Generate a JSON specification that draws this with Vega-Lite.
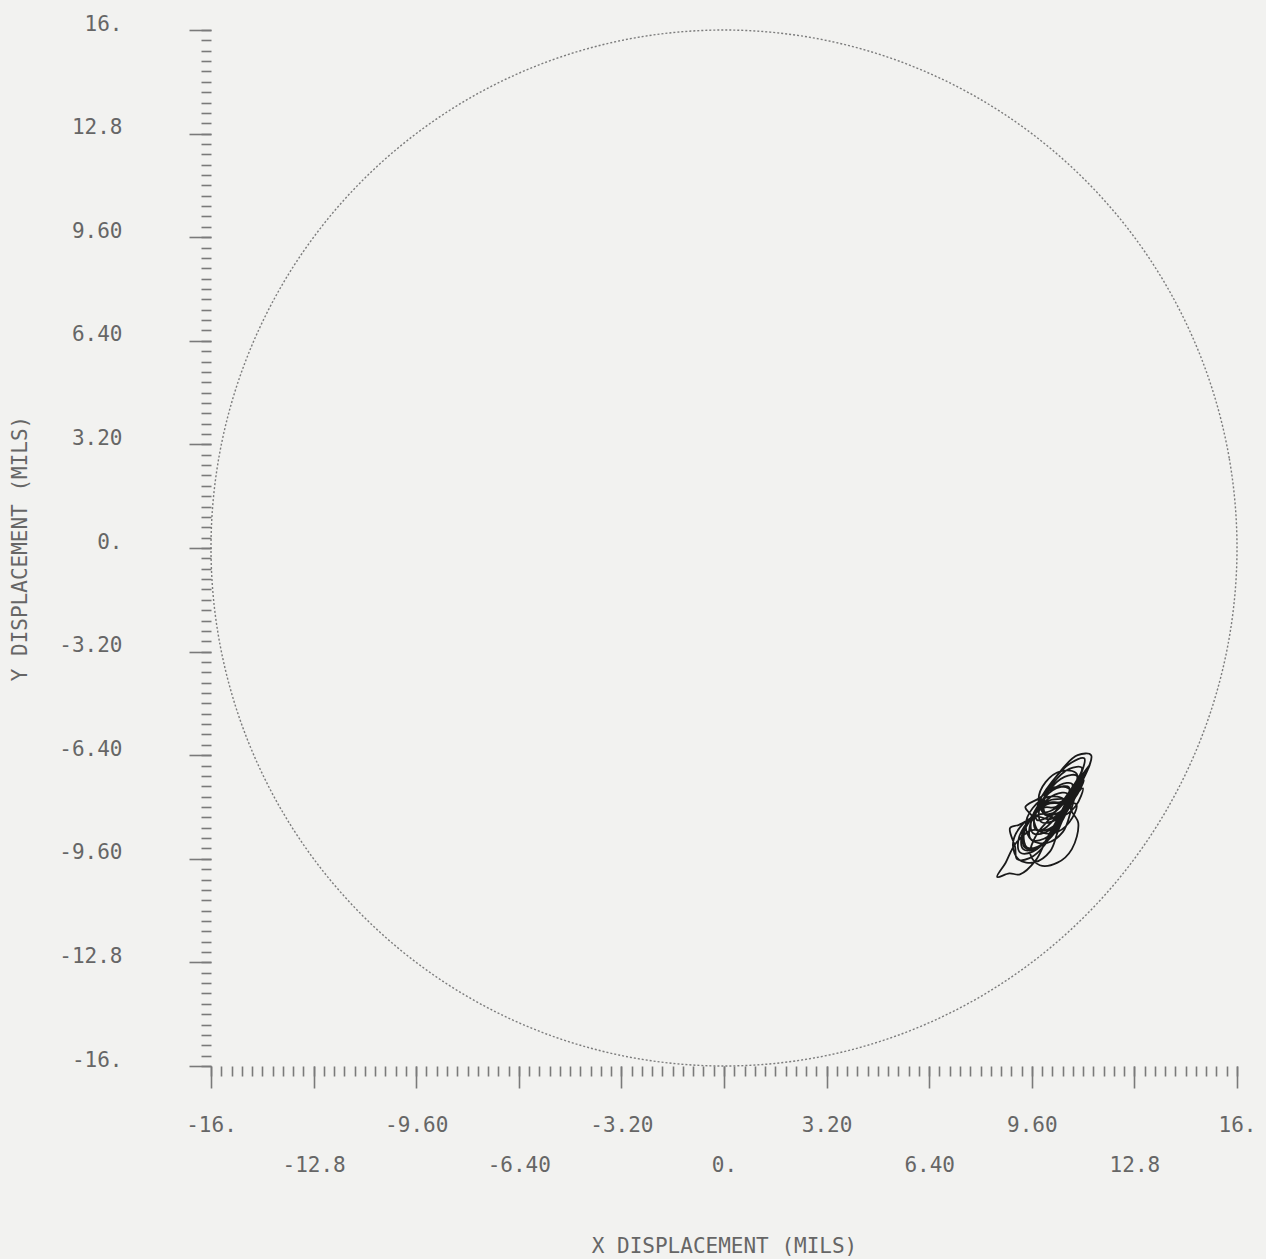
{
  "$schema": "https://vega.github.io/schema/vega-lite/v6.json",
  "width": 1026,
  "height": 1036,
  "autosize": {"type": "none"},
  "padding": {"left": 211, "top": 30, "right": 29, "bottom": 193},
  "background": "#f2f2f0",
  "config": {
    "view": {"stroke": null},
    "axis": {
      "labelFont": "DejaVu Sans Mono",
      "titleFont": "DejaVu Sans Mono",
      "labelFontSize": 21,
      "titleFontSize": 21,
      "titleFontWeight": "normal",
      "labelColor": "#666666",
      "titleColor": "#666666",
      "tickColor": "#7a7a7a",
      "tickWidth": 1.6,
      "domain": false,
      "grid": false
    }
  },
  "datasets": {
    "circle": [
      {"i": 0, "x": 16, "y": 0}, {"i": 1, "x": 15.757, "y": 2.778}, {"i": 2, "x": 15.035, "y": 5.472},
      {"i": 3, "x": 13.856, "y": 8}, {"i": 4, "x": 12.257, "y": 10.285}, {"i": 5, "x": 10.285, "y": 12.257},
      {"i": 6, "x": 8, "y": 13.856}, {"i": 7, "x": 5.472, "y": 15.035}, {"i": 8, "x": 2.778, "y": 15.757},
      {"i": 9, "x": 0, "y": 16}, {"i": 10, "x": -2.778, "y": 15.757}, {"i": 11, "x": -5.472, "y": 15.035},
      {"i": 12, "x": -8, "y": 13.856}, {"i": 13, "x": -10.285, "y": 12.257}, {"i": 14, "x": -12.257, "y": 10.285},
      {"i": 15, "x": -13.856, "y": 8}, {"i": 16, "x": -15.035, "y": 5.472}, {"i": 17, "x": -15.757, "y": 2.778},
      {"i": 18, "x": -16, "y": 0}, {"i": 19, "x": -15.757, "y": -2.778}, {"i": 20, "x": -15.035, "y": -5.472},
      {"i": 21, "x": -13.856, "y": -8}, {"i": 22, "x": -12.257, "y": -10.285}, {"i": 23, "x": -10.285, "y": -12.257},
      {"i": 24, "x": -8, "y": -13.856}, {"i": 25, "x": -5.472, "y": -15.035}, {"i": 26, "x": -2.778, "y": -15.757},
      {"i": 27, "x": 0, "y": -16}, {"i": 28, "x": 2.778, "y": -15.757}, {"i": 29, "x": 5.472, "y": -15.035},
      {"i": 30, "x": 8, "y": -13.856}, {"i": 31, "x": 10.285, "y": -12.257}, {"i": 32, "x": 12.257, "y": -10.285},
      {"i": 33, "x": 13.856, "y": -8}, {"i": 34, "x": 15.035, "y": -5.472}, {"i": 35, "x": 15.757, "y": -2.778}
    ],
    "orbit": [
      {"t": 1, "x": 10.46, "y": -7.89}, {"t": 2, "x": 10.07, "y": -7.92}, {"t": 3, "x": 9.58, "y": -8.35},
      {"t": 4, "x": 9.28, "y": -8.93}, {"t": 5, "x": 9.34, "y": -9.31}, {"t": 6, "x": 9.73, "y": -9.28},
      {"t": 7, "x": 10.22, "y": -8.85}, {"t": 8, "x": 10.52, "y": -8.27},
      {"t": 9, "x": 10.76, "y": -7.39}, {"t": 10, "x": 10.37, "y": -7.42}, {"t": 11, "x": 9.88, "y": -7.85},
      {"t": 12, "x": 9.58, "y": -8.43}, {"t": 13, "x": 9.64, "y": -8.81}, {"t": 14, "x": 10.03, "y": -8.78},
      {"t": 15, "x": 10.52, "y": -8.35}, {"t": 16, "x": 10.82, "y": -7.77},
      {"t": 17, "x": 10.58, "y": -7.75}, {"t": 18, "x": 10.15, "y": -7.8}, {"t": 19, "x": 9.65, "y": -8.22},
      {"t": 20, "x": 9.35, "y": -8.85}, {"t": 21, "x": 9.45, "y": -9.25}, {"t": 22, "x": 9.85, "y": -9.2},
      {"t": 23, "x": 10.35, "y": -8.75}, {"t": 24, "x": 10.62, "y": -8.15},
      {"t": 25, "x": 11.24, "y": -6.5}, {"t": 26, "x": 10.83, "y": -6.63}, {"t": 27, "x": 10.22, "y": -7.23},
      {"t": 28, "x": 9.78, "y": -7.97}, {"t": 29, "x": 9.76, "y": -8.4}, {"t": 30, "x": 10.17, "y": -8.27},
      {"t": 31, "x": 10.78, "y": -7.67}, {"t": 32, "x": 11.22, "y": -6.93},
      {"t": 33, "x": 10.8, "y": -8.0}, {"t": 34, "x": 11.05, "y": -8.5}, {"t": 35, "x": 10.85, "y": -9.3},
      {"t": 36, "x": 10.4, "y": -9.72}, {"t": 37, "x": 9.85, "y": -9.8}, {"t": 38, "x": 9.55, "y": -9.45},
      {"t": 39, "x": 9.75, "y": -8.85}, {"t": 40, "x": 10.25, "y": -8.25},
      {"t": 41, "x": 11.16, "y": -6.79}, {"t": 42, "x": 10.77, "y": -6.82}, {"t": 43, "x": 10.28, "y": -7.25},
      {"t": 44, "x": 9.98, "y": -7.83}, {"t": 45, "x": 10.04, "y": -8.21}, {"t": 46, "x": 10.43, "y": -8.18},
      {"t": 47, "x": 10.92, "y": -7.75}, {"t": 48, "x": 11.22, "y": -7.17},
      {"t": 49, "x": 10.26, "y": -8.19}, {"t": 50, "x": 9.87, "y": -8.22}, {"t": 51, "x": 9.2, "y": -8.55},
      {"t": 52, "x": 8.92, "y": -8.65}, {"t": 53, "x": 9.08, "y": -9.23}, {"t": 54, "x": 9.14, "y": -9.61},
      {"t": 55, "x": 9.53, "y": -9.58}, {"t": 56, "x": 10.02, "y": -9.15}, {"t": 57, "x": 10.32, "y": -8.57},
      {"t": 58, "x": 10.86, "y": -7.29}, {"t": 59, "x": 10.47, "y": -7.32}, {"t": 60, "x": 9.98, "y": -7.75},
      {"t": 61, "x": 9.68, "y": -8.33}, {"t": 62, "x": 9.74, "y": -8.71}, {"t": 63, "x": 10.13, "y": -8.68},
      {"t": 64, "x": 10.62, "y": -8.25}, {"t": 65, "x": 10.92, "y": -7.67},
      {"t": 66, "x": 9.96, "y": -8.69}, {"t": 67, "x": 9.57, "y": -8.72}, {"t": 68, "x": 9.08, "y": -9.15},
      {"t": 69, "x": 8.78, "y": -9.73}, {"t": 70, "x": 8.52, "y": -10.16}, {"t": 71, "x": 8.9, "y": -10.05},
      {"t": 72, "x": 9.23, "y": -10.08}, {"t": 73, "x": 9.72, "y": -9.65}, {"t": 74, "x": 10.02, "y": -9.07},
      {"t": 75, "x": 10.71, "y": -7.59}, {"t": 76, "x": 10.32, "y": -7.62}, {"t": 77, "x": 9.83, "y": -8.05},
      {"t": 78, "x": 9.53, "y": -8.63}, {"t": 79, "x": 9.59, "y": -9.01}, {"t": 80, "x": 9.98, "y": -8.98},
      {"t": 81, "x": 10.47, "y": -8.55}, {"t": 82, "x": 10.77, "y": -7.97},
      {"t": 83, "x": 11.45, "y": -6.4}, {"t": 84, "x": 11.03, "y": -6.4}, {"t": 85, "x": 10.42, "y": -6.98},
      {"t": 86, "x": 9.98, "y": -7.72}, {"t": 87, "x": 9.96, "y": -8.15}, {"t": 88, "x": 10.37, "y": -8.02},
      {"t": 89, "x": 10.98, "y": -7.42}, {"t": 90, "x": 11.42, "y": -6.68},
      {"t": 91, "x": 10.36, "y": -7.99}, {"t": 92, "x": 9.97, "y": -8.02}, {"t": 93, "x": 9.48, "y": -8.45},
      {"t": 94, "x": 9.18, "y": -9.03}, {"t": 95, "x": 9.24, "y": -9.41}, {"t": 96, "x": 9.63, "y": -9.38},
      {"t": 97, "x": 10.12, "y": -8.95}, {"t": 98, "x": 10.42, "y": -8.37},
      {"t": 99, "x": 11.01, "y": -7.04}, {"t": 100, "x": 10.62, "y": -7.07}, {"t": 101, "x": 10.13, "y": -7.5},
      {"t": 102, "x": 9.83, "y": -8.08}, {"t": 103, "x": 9.89, "y": -8.46}, {"t": 104, "x": 10.28, "y": -8.43},
      {"t": 105, "x": 10.77, "y": -8.0}, {"t": 106, "x": 11.07, "y": -7.42},
      {"t": 107, "x": 10.51, "y": -7.84}, {"t": 108, "x": 10.12, "y": -7.87}, {"t": 109, "x": 9.63, "y": -8.3},
      {"t": 110, "x": 9.33, "y": -8.88}, {"t": 111, "x": 9.39, "y": -9.26}, {"t": 112, "x": 9.78, "y": -9.23},
      {"t": 113, "x": 10.27, "y": -8.8}, {"t": 114, "x": 10.57, "y": -8.22},
      {"t": 115, "x": 10.6, "y": -7.77}, {"t": 116, "x": 10.12, "y": -7.69}, {"t": 117, "x": 9.63, "y": -8.03},
      {"t": 118, "x": 9.41, "y": -8.58}, {"t": 119, "x": 9.6, "y": -9.03}, {"t": 120, "x": 10.08, "y": -9.11},
      {"t": 121, "x": 10.57, "y": -8.77}, {"t": 122, "x": 10.79, "y": -8.22},
      {"t": 123, "x": 11.0, "y": -6.97}, {"t": 124, "x": 10.52, "y": -6.89}, {"t": 125, "x": 10.03, "y": -7.23},
      {"t": 126, "x": 9.81, "y": -7.78}, {"t": 127, "x": 10.0, "y": -8.23}, {"t": 128, "x": 10.48, "y": -8.31},
      {"t": 129, "x": 10.97, "y": -7.97}, {"t": 130, "x": 11.19, "y": -7.42},
      {"t": 131, "x": 10.2, "y": -8.37}, {"t": 132, "x": 9.72, "y": -8.29}, {"t": 133, "x": 9.23, "y": -8.63},
      {"t": 134, "x": 9.01, "y": -9.18}, {"t": 135, "x": 9.2, "y": -9.63}, {"t": 136, "x": 9.68, "y": -9.71},
      {"t": 137, "x": 10.17, "y": -9.37}, {"t": 138, "x": 10.39, "y": -8.82},
      {"t": 139, "x": 10.8, "y": -7.47}, {"t": 140, "x": 10.32, "y": -7.39}, {"t": 141, "x": 9.83, "y": -7.73},
      {"t": 142, "x": 9.4, "y": -8.0}, {"t": 143, "x": 9.61, "y": -8.28}, {"t": 144, "x": 9.8, "y": -8.73},
      {"t": 145, "x": 10.28, "y": -8.81}, {"t": 146, "x": 10.77, "y": -8.47}, {"t": 147, "x": 10.99, "y": -7.92},
      {"t": 148, "x": 10.5, "y": -7.9}
    ]
  },
  "resolve": {"axis": {"x": "independent", "y": "independent"}},
  "layer": [
    {
      "data": {"name": "circle"},
      "mark": {"type": "line", "interpolate": "cardinal-closed", "stroke": "#7c7c7c", "strokeWidth": 1.4, "strokeDash": [2, 2]},
      "encoding": {
        "x": {
          "field": "x", "type": "quantitative",
          "scale": {"domain": [-16, 16], "nice": false, "zero": false},
          "axis": {
            "orient": "bottom", "title": null, "labels": false, "tickSize": 10,
            "values": [-16,-15.68,-15.36,-15.04,-14.72,-14.4,-14.08,-13.76,-13.44,-13.12,-12.8,-12.48,-12.16,-11.84,-11.52,-11.2,-10.88,-10.56,-10.24,-9.92,-9.6,-9.28,-8.96,-8.64,-8.32,-8,-7.68,-7.36,-7.04,-6.72,-6.4,-6.08,-5.76,-5.44,-5.12,-4.8,-4.48,-4.16,-3.84,-3.52,-3.2,-2.88,-2.56,-2.24,-1.92,-1.6,-1.28,-0.96,-0.64,-0.32,0,0.32,0.64,0.96,1.28,1.6,1.92,2.24,2.56,2.88,3.2,3.52,3.84,4.16,4.48,4.8,5.12,5.44,5.76,6.08,6.4,6.72,7.04,7.36,7.68,8,8.32,8.64,8.96,9.28,9.6,9.92,10.24,10.56,10.88,11.2,11.52,11.84,12.16,12.48,12.8,13.12,13.44,13.76,14.08,14.4,14.72,15.04,15.36,15.68,16]
          }
        },
        "y": {
          "field": "y", "type": "quantitative",
          "scale": {"domain": [-16, 16], "nice": false, "zero": false},
          "axis": {
            "orient": "left", "title": null, "labels": false, "tickSize": 10,
            "values": [-16,-15.68,-15.36,-15.04,-14.72,-14.4,-14.08,-13.76,-13.44,-13.12,-12.8,-12.48,-12.16,-11.84,-11.52,-11.2,-10.88,-10.56,-10.24,-9.92,-9.6,-9.28,-8.96,-8.64,-8.32,-8,-7.68,-7.36,-7.04,-6.72,-6.4,-6.08,-5.76,-5.44,-5.12,-4.8,-4.48,-4.16,-3.84,-3.52,-3.2,-2.88,-2.56,-2.24,-1.92,-1.6,-1.28,-0.96,-0.64,-0.32,0,0.32,0.64,0.96,1.28,1.6,1.92,2.24,2.56,2.88,3.2,3.52,3.84,4.16,4.48,4.8,5.12,5.44,5.76,6.08,6.4,6.72,7.04,7.36,7.68,8,8.32,8.64,8.96,9.28,9.6,9.92,10.24,10.56,10.88,11.2,11.52,11.84,12.16,12.48,12.8,13.12,13.44,13.76,14.08,14.4,14.72,15.04,15.36,15.68,16]
          }
        },
        "order": {"field": "i", "type": "quantitative"}
      }
    },
    {
      "data": {"name": "orbit"},
      "mark": {"type": "line", "interpolate": "catmull-rom", "stroke": "#1a1a1a", "strokeWidth": 1.8},
      "encoding": {
        "x": {
          "field": "x", "type": "quantitative",
          "scale": {"domain": [-16, 16], "nice": false, "zero": false},
          "axis": {
            "orient": "bottom",
            "values": [-16, -12.8, -9.6, -6.4, -3.2, 0, 3.2, 6.4, 9.6, 12.8, 16],
            "tickSize": 22,
            "labelPadding": 26,
            "labelBaseline": "top",
            "labelLineHeight": 40,
            "labelOverlap": false,
            "labelFlush": false,
            "labelBound": false,
            "labelExpr": "indexof([-16, -9.6, -3.2, 3.2, 9.6, 16], datum.value) >= 0 ? [(datum.value < 0 ? '-' : '') + (abs(datum.value) == 16 ? '16.' : datum.value == 0 ? '0.' : abs(datum.value) == 12.8 ? '12.8' : format(abs(datum.value), '.2f'))] : ['', (datum.value < 0 ? '-' : '') + (abs(datum.value) == 16 ? '16.' : datum.value == 0 ? '0.' : abs(datum.value) == 12.8 ? '12.8' : format(abs(datum.value), '.2f'))]",
            "title": "X DISPLACEMENT (MILS)",
            "titlePadding": 60
          }
        },
        "y": {
          "field": "y", "type": "quantitative",
          "scale": {"domain": [-16, 16], "nice": false, "zero": false},
          "axis": {
            "orient": "left",
            "values": [-16, -12.8, -9.6, -6.4, -3.2, 0, 3.2, 6.4, 9.6, 12.8, 16],
            "tickSize": 22,
            "labelPadding": 67,
            "labelOffset": -6,
            "labelOverlap": false,
            "labelFlush": false,
            "labelBound": false,
            "labelExpr": "(datum.value < 0 ? '-' : '') + (abs(datum.value) == 16 ? '16.' : datum.value == 0 ? '0.' : abs(datum.value) == 12.8 ? '12.8' : format(abs(datum.value), '.2f'))",
            "title": "Y DISPLACEMENT (MILS)",
            "titlePadding": 28
          }
        },
        "order": {"field": "t", "type": "quantitative"}
      }
    }
  ]
}
